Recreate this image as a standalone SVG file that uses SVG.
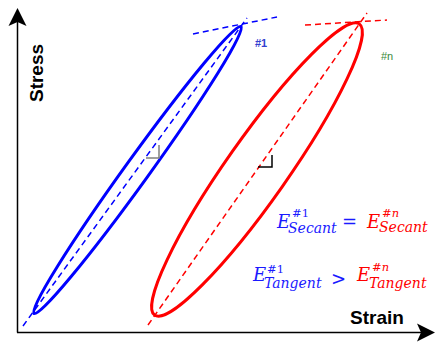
<svg xmlns="http://www.w3.org/2000/svg" width="436" height="343" viewBox="0 0 436 343">
<style>
.axis{stroke:#000;stroke-width:1.5;fill:none}
.ell{fill:none;stroke-width:3}
.dash{fill:none;stroke-width:1.5;stroke-dasharray:6 4}
.lab{font-family:"Liberation Sans",Arial,sans-serif;font-weight:bold;font-size:19px;fill:#000}
.tag{font-family:"Liberation Sans",Arial,sans-serif;font-size:11px;font-weight:bold}
.m{font-family:"DejaVu Serif",serif;font-style:italic}
.big{font-size:18px}
.sub{font-size:14px}
.sup{font-size:11.5px;font-style:normal}
.b{fill:#1a1aff}
.r{fill:#ff0000}
</style>
<g id="axes">
<line class="axis" x1="17.5" y1="20" x2="17.5" y2="332.5"/>
<line class="axis" x1="17" y1="332.5" x2="425" y2="332.5"/>
<path d="M17.5,8 L26.5,26 L17.5,22 L8.5,26 Z" fill="#000"/>
<path d="M435,332.5 L417,323.5 L421,332.5 L417,341.5 Z" fill="#000"/>
<text class="lab" transform="translate(43,73) rotate(-90)" text-anchor="middle">Stress</text>
<text class="lab" x="350" y="324">Strain</text>
</g>
<g id="loop1">
<ellipse class="ell" stroke="#0000ff" cx="137.5" cy="170" rx="177" ry="12" transform="rotate(-54.2 137.5 170)"/>
<text class="tag" x="255" y="47" fill="#3340d0">#1</text>
</g>
<g id="loopn">
<ellipse class="ell" stroke="#ff0000" cx="257" cy="169.5" rx="178" ry="30.5" transform="rotate(-54.9 257 169.5)"/>
<text class="tag" x="381" y="60" fill="#3a8a3a" style="font-weight:normal">#n</text>
</g>
<g id="connectors">
<line class="dash" stroke="#0000ff" x1="23" y1="326" x2="247" y2="18"/>
<line class="dash" stroke="#0000ff" x1="193" y1="34" x2="277" y2="17"/>
<line class="dash" stroke="#ff0000" x1="148" y1="325" x2="367" y2="13"/>
<line class="dash" stroke="#ff0000" x1="305" y1="25" x2="387" y2="20"/>
<path d="M146,158 H159 V145" fill="none" stroke="#808080" stroke-width="1.5"/>
<path d="M258,167 H272 V155" fill="none" stroke="#000" stroke-width="1.5"/>
</g>
<g id="equations" class="m">
<text class="m big b" x="277" y="228">E</text>
<text class="m sup b" x="292" y="217">#1</text>
<text class="m sub b" x="288" y="232.5">Secant</text>
<text class="m big b" x="342" y="228" style="font-style:normal">=</text>
<text class="m big r" x="367" y="228">E</text>
<text class="m sup r" x="382" y="216.5">#<tspan font-style="italic">n</tspan></text>
<text class="m sub r" x="379" y="232">Secant</text>
<text class="m big b" x="253" y="281">E</text>
<text class="m sup b" x="267" y="273">#1</text>
<text class="m sub b" x="264" y="287.5">Tangent</text>
<text class="m big b" x="331" y="285" style="font-style:normal">&gt;</text>
<text class="m big r" x="357" y="281">E</text>
<text class="m sup r" x="372" y="270.5">#<tspan font-style="italic">n</tspan></text>
<text class="m sub r" x="369" y="287.5">Tangent</text>
</g>
</svg>
